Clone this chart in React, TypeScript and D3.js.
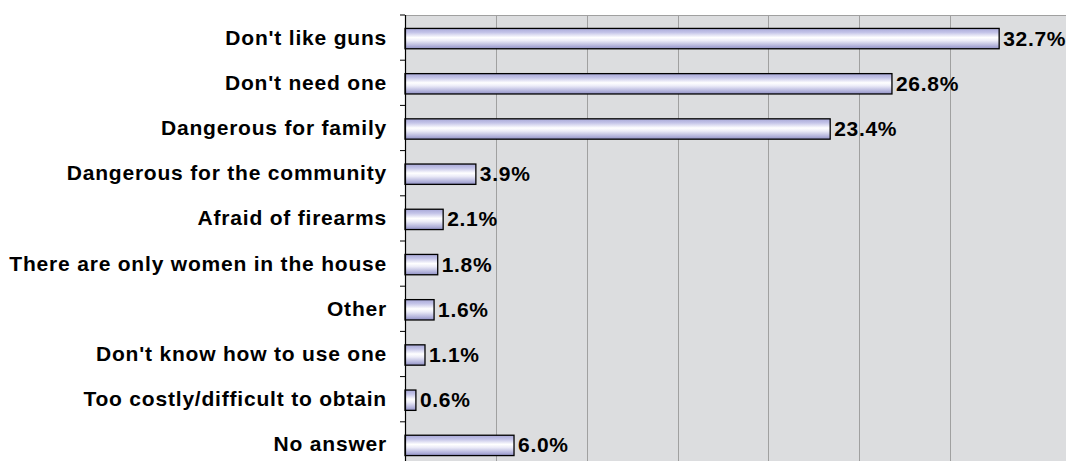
import React from "react";
import * as d3 from "d3";

const categories = [
  "Don't like guns",
  "Don't need one",
  "Dangerous for family",
  "Dangerous for the community",
  "Afraid of firearms",
  "There are only women in the house",
  "Other",
  "Don't know how to use one",
  "Too costly/difficult to obtain",
  "No answer",
];
const values = [32.7, 26.8, 23.4, 3.9, 2.1, 1.8, 1.6, 1.1, 0.6, 6.0];
const gridTicks = [5, 10, 15, 20, 25, 30];

const W = 1066;
const H = 461;
const left = 405;
const top = 15;
const right = 1080;
const bandH = 45.2;
const bottom = top + bandH * categories.length;

export default function App() {
  const x = d3.scaleLinear().domain([0, 35]).range([left, left + 18.17 * 35]);
  const y = d3
    .scaleBand<string>()
    .domain(categories)
    .range([top, bottom])
    .paddingInner(0.55)
    .paddingOuter(0.275);
  const font = "'Liberation Sans', Arial, sans-serif";
  const boundaries = d3.range(categories.length + 1).map((i) => top + i * bandH);
  return (
    <svg
      width={W}
      height={H}
      style={{ position: "absolute", left: 0, top: 0, background: "#fff" }}
    >
      <defs>
        <linearGradient id="barGrad" x1="0" y1="0" x2="0" y2="1">
          <stop offset="0" stopColor="#a8a8d8" />
          <stop offset="0.2" stopColor="#c4c4e8" />
          <stop offset="0.45" stopColor="#ffffff" />
          <stop offset="0.6" stopColor="#ececf8" />
          <stop offset="0.85" stopColor="#b4b4dc" />
          <stop offset="1" stopColor="#9090c4" />
        </linearGradient>
      </defs>
      <rect x={left} y={top} width={right - left} height={bottom - top} fill="#dcdddf" />
      <line x1={left} x2={right} y1={top + 0.5} y2={top + 0.5} stroke="#a0a0a0" />
      {gridTicks.map((t) => (
        <line
          key={t}
          x1={Math.round(x(t)) + 0.5}
          x2={Math.round(x(t)) + 0.5}
          y1={top}
          y2={bottom}
          stroke="#a0a0a0"
        />
      ))}
      {categories.map((c, i) => {
        const by = (y(c) as number) + 1;
        const bh = y.bandwidth();
        const x0 = x(0);
        const x1 = x(values[i]);
        return (
          <g key={c}>
            <rect
              x={x0}
              y={by}
              width={x1 - x0}
              height={bh}
              fill="url(#barGrad)"
              stroke="#000"
              strokeWidth={1.3}
            />
            <text
              x={x1 + 4}
              y={by + bh / 2 + 7}
              fontFamily={font}
              fontWeight="bold"
              fontSize={21}
              letterSpacing={0.7}
              fill="#000"
            >
              {values[i].toFixed(1) + "%"}
            </text>
            <text
              x={387}
              y={by + bh / 2 + 6}
              textAnchor="end"
              fontFamily={font}
              fontWeight="bold"
              fontSize={21}
              letterSpacing={0.8}
              fill="#000"
            >
              {c}
            </text>
          </g>
        );
      })}
      <line x1={left + 0.5} x2={left + 0.5} y1={top} y2={bottom} stroke="#000" strokeWidth={1.2} />
      {boundaries.map((b, i) => (
        <line key={i} x1={left - 5} x2={left} y1={b} y2={b} stroke="#000" />
      ))}
    </svg>
  );
}
